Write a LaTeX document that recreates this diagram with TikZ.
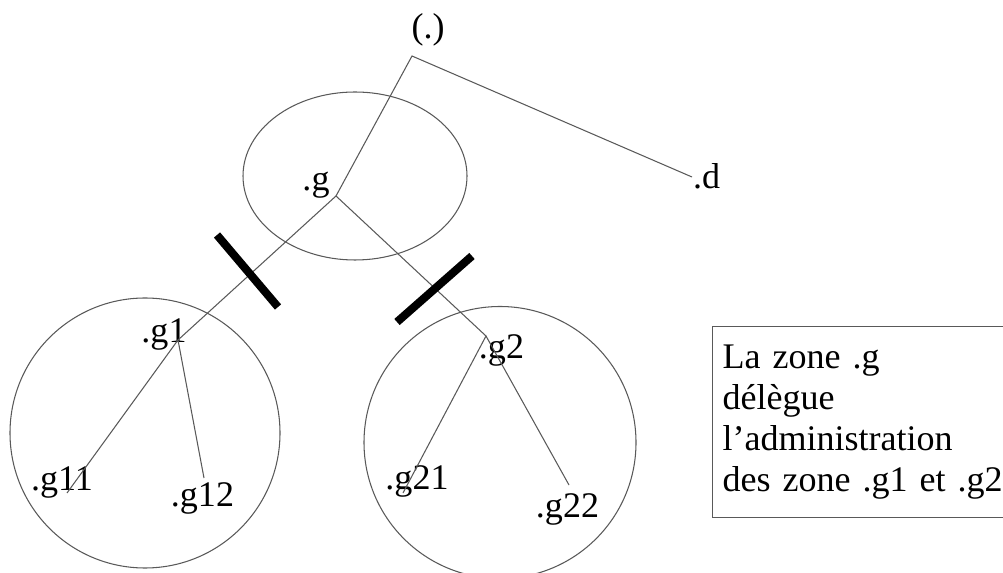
\documentclass[tikz,border=0pt]{standalone}
\usepackage{fontspec}
\setmainfont{Liberation Serif}
\usepackage{tikz}
\usetikzlibrary{positioning}
\tikzset{lbl/.style={inner sep=0pt,font=\fontsize{20.5}{23}\selectfont},
 lien/.style={draw=black!65,line width=0.6pt},
 zone/.style={draw=black!65,line width=0.6pt},
 coupe/.style={draw=black,line width=4.6pt},
 note/.style={draw=black!65,line width=0.6pt,align=left,anchor=north west,
 text width=5.9cm,inner xsep=0.2cm,minimum height=3.82cm,
 font=\fontsize{20.5}{23.2}\selectfont}}
\begin{document}
\begin{tikzpicture}
\useasboundingbox (0,0) rectangle (20.06,11.46);
\draw[zone] (7.10,7.94) ellipse [x radius=2.24,y radius=1.68];
\draw[zone] (2.90,2.80) circle [radius=2.70];
\draw[zone] (10.00,2.61) circle [radius=2.72];
\coordinate (r) at (8.24,10.34);
\coordinate (g) at (6.72,7.54);
\coordinate (d) at (13.84,7.92);
\coordinate (g1) at (3.56,4.66);
\coordinate (g2) at (9.72,4.74);
\coordinate (g11) at (1.34,1.60);
\coordinate (g12) at (4.08,1.90);
\coordinate (g21) at (8.06,1.60);
\coordinate (g22) at (11.38,1.76);
\node[lbl] (rl) at (8.56,10.86) {(.)};
\node[lbl] (gl) at (6.32,7.76) {.g};
\node[lbl] (dl) at (14.13,7.93) {.d};
\node[lbl] (g1l) at (3.28,4.78) {.g1};
\node[lbl] (g2l) at (10.03,4.46) {.g2};
\node[lbl] (g11l) at (1.24,1.82) {.g11};
\node[lbl] (g12l) at (4.05,1.50) {.g12};
\node[lbl] (g21l) at (8.34,1.84) {.g21};
\node[lbl] (g22l) at (11.35,1.28) {.g22};
\draw[lien] (g)--(r)--(d);
\draw[lien] (g1)--(g)--(g2);
\draw[lien] (g11)--(g1)--(g12);
\draw[lien] (g21)--(g2)--(g22);
\draw[coupe] (4.34,6.76)--(5.56,5.32);
\draw[coupe] (7.94,5.02)--(9.44,6.34);
\node[note] (txt) at (14.24,4.94) {La zone .g\\délègue\\l’administration\\des zone .g1 et .g2};
\end{tikzpicture}
\end{document}
